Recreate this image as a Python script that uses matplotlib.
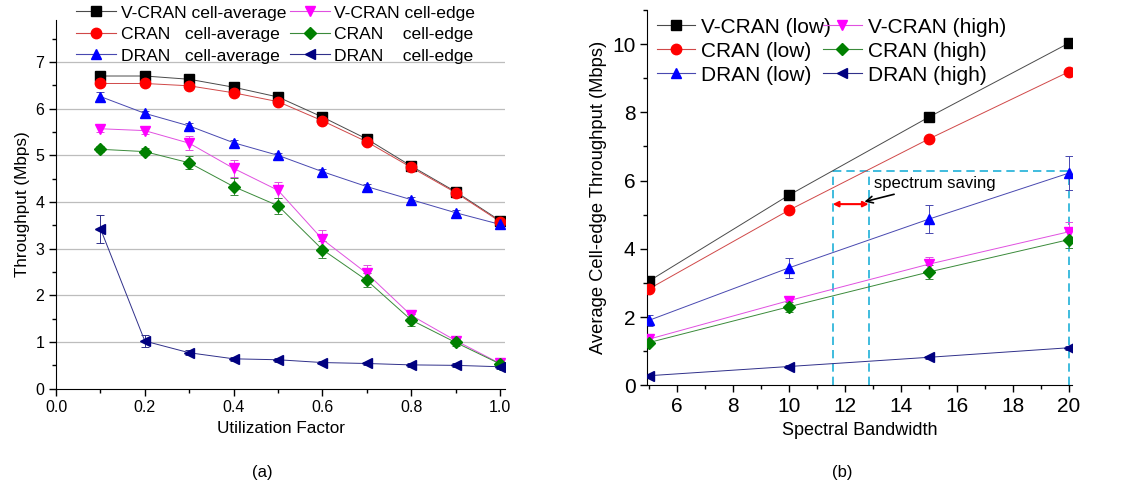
import matplotlib
matplotlib.use("Agg")
import matplotlib.pyplot as plt
from matplotlib.lines import Line2D
from matplotlib.ticker import MultipleLocator, FormatStrFormatter

plt.rcParams['font.family'] = ['Liberation Sans', 'DejaVu Sans']

# ---- panel (a) data ----
util = [0.1, 0.2, 0.3, 0.4, 0.5, 0.6, 0.7, 0.8, 0.9, 1.0]
vcran_avg = [6.70, 6.70, 6.63, 6.46, 6.25, 5.82, 5.35, 4.77, 4.22, 3.60]
cran_avg = [6.54, 6.54, 6.49, 6.34, 6.15, 5.74, 5.29, 4.74, 4.20, 3.58]
dran_avg = [6.26, 5.90, 5.63, 5.27, 5.00, 4.65, 4.33, 4.05, 3.77, 3.52]
vcran_edge = [5.57, 5.53, 5.26, 4.72, 4.25, 3.20, 2.47, 1.57, 1.03, 0.54]
cran_edge = [5.13, 5.08, 4.84, 4.33, 3.92, 2.98, 2.32, 1.47, 0.99, 0.53]
dran_edge = [3.43, 1.02, 0.77, 0.64, 0.62, 0.56, 0.54, 0.51, 0.50, 0.47]
vcran_avg_err = [0.04, 0.04, 0.04, 0.04, 0.04, 0.05, 0.05, 0.05, 0.05, 0.05]
cran_avg_err = [0.04, 0.04, 0.04, 0.04, 0.04, 0.05, 0.05, 0.05, 0.05, 0.05]
dran_avg_err = [0.10, 0.06, 0.06, 0.06, 0.06, 0.06, 0.06, 0.05, 0.05, 0.05]
vcran_edge_err = [0.06, 0.08, 0.15, 0.19, 0.17, 0.20, 0.18, 0.12, 0.07, 0.04]
cran_edge_err = [0.06, 0.08, 0.14, 0.18, 0.17, 0.18, 0.15, 0.12, 0.07, 0.04]
dran_edge_err = [0.30, 0.13, 0.05, 0.04, 0.04, 0.04, 0.04, 0.04, 0.04, 0.04]

# ---- panel (b) data ----
bw = [5, 10, 15, 20]
vcran_low = [3.05, 5.57, 7.86, 10.03]
cran_low = [2.82, 5.13, 7.22, 9.19]
dran_low = [1.90, 3.44, 4.87, 6.22]
vcran_high = [1.35, 2.48, 3.55, 4.50]
cran_high = [1.25, 2.30, 3.32, 4.27]
dran_high = [0.28, 0.55, 0.82, 1.10]
vcran_low_err = [0.05, 0.06, 0.06, 0.07]
cran_low_err = [0.05, 0.06, 0.06, 0.07]
dran_low_err = [0.15, 0.30, 0.40, 0.50]
vcran_high_err = [0.08, 0.15, 0.20, 0.30]
cran_high_err = [0.08, 0.15, 0.20, 0.25]
dran_high_err = [0.04, 0.05, 0.05, 0.06]

# spectrum saving guide
saving_level = 6.28
saving_x = [11.57, 12.85]
saving_arrow_y = 5.31

mcolors = ['#000000', '#ff0000', '#0000ff', '#ff00ff', '#008000', '#000080']
lcolors = ['#4a4a4a', '#d04848', '#4848b0', '#e050e0', '#3a8a3a', '#30308a']
markers = ['s', 'o', '^', 'v', 'D', '<']
msizes = [6.5, 7.5, 7.5, 7.5, 6.5, 7.5]

fig = plt.figure(figsize=(11.41, 4.88), dpi=100)
ax1 = fig.add_axes([0.0491, 0.2035, 0.3935, 0.7555])
ax2 = fig.add_axes([0.5673, 0.2105, 0.372, 0.769])


def style_axes(ax, size):
    for s in ['top', 'right']:
        ax.spines[s].set_visible(False)
    ax.tick_params(which='major', direction='out', length=5, width=1, labelsize=size)
    ax.tick_params(which='minor', direction='out', length=3, width=1)


def draw(ax, x, series):
    handles = []
    for i, (y, e, lab) in enumerate(series):
        ax.errorbar(x, y, yerr=e, fmt='none', ecolor=lcolors[i],
                    elinewidth=0.7, capsize=3, capthick=0.7, zorder=2)
        ax.plot(x, y, color=lcolors[i], lw=0.7, zorder=3)
        ax.plot(x, y, ls='none', marker=markers[i], ms=msizes[i],
                mfc=mcolors[i], mec=mcolors[i], zorder=4)
        handles.append(Line2D([], [], color=lcolors[i], lw=0.8, marker=markers[i],
                              ms=msizes[i], mfc=mcolors[i], mec=mcolors[i], label=lab))
    return handles


# ---- (a) ----
series_a = [
    (vcran_avg, vcran_avg_err, 'V-CRAN cell-average'),
    (cran_avg, cran_avg_err, 'CRAN   cell-average'),
    (dran_avg, dran_avg_err, 'DRAN   cell-average'),
    (vcran_edge, vcran_edge_err, 'V-CRAN cell-edge'),
    (cran_edge, cran_edge_err, 'CRAN    cell-edge'),
    (dran_edge, dran_edge_err, 'DRAN    cell-edge'),
]
handles = draw(ax1, util, series_a)

ax1.set_xlim(0, 1.011)
ax1.set_ylim(0, 7.9)
ax1.xaxis.set_major_locator(MultipleLocator(0.2))
ax1.xaxis.set_minor_locator(MultipleLocator(0.1))
ax1.xaxis.set_major_formatter(FormatStrFormatter('%.1f'))
ax1.yaxis.set_major_locator(MultipleLocator(1))
ax1.yaxis.set_minor_locator(MultipleLocator(0.5))
for g in range(1, 8):
    ax1.axhline(g, color='#bdbdbd', lw=0.9, zorder=0)
style_axes(ax1, 11.5)
ax1.set_xlabel('Utilization Factor', fontsize=12.3)
ax1.set_ylabel('Throughput (Mbps)', fontsize=12.3)
ax1.legend(handles=handles, ncol=2, loc='upper left', bbox_to_anchor=(0.045, 1.04),
           frameon=False, fontsize=12.6, handlelength=2.3, handletextpad=0.25,
           columnspacing=0.2, labelspacing=0.36, borderaxespad=0, borderpad=0)

# ---- (b) ----
series_b = [
    (vcran_low, vcran_low_err, 'V-CRAN (low)'),
    (cran_low, cran_low_err, 'CRAN (low)'),
    (dran_low, dran_low_err, 'DRAN (low)'),
    (vcran_high, vcran_high_err, 'V-CRAN (high)'),
    (cran_high, cran_high_err, 'CRAN (high)'),
    (dran_high, dran_high_err, 'DRAN (high)'),
]
handles = draw(ax2, bw, series_b)

ax2.set_xlim(4.95, 20.1)
ax2.set_ylim(0, 11.0)
ax2.xaxis.set_major_locator(MultipleLocator(2))
ax2.xaxis.set_minor_locator(MultipleLocator(1))
ax2.yaxis.set_major_locator(MultipleLocator(2))
ax2.yaxis.set_minor_locator(MultipleLocator(1))
style_axes(ax2, 15)
ax2.set_xlabel('Spectral Bandwidth', fontsize=13)
ax2.set_ylabel('Average Cell-edge Throughput (Mbps)', fontsize=13.2)
ax2.legend(handles=handles, ncol=2, loc='upper left', bbox_to_anchor=(0.022, 0.98),
           frameon=False, fontsize=15, handlelength=1.85, handletextpad=0.3,
           columnspacing=-0.4, labelspacing=0.24, borderaxespad=0, borderpad=0)

# dashed guides
guide = dict(color='#1fb0d8', lw=1.2, ls=(0, (5, 3)), zorder=1)
ax2.plot([saving_x[0], 20], [saving_level, saving_level], **guide)
for xv in saving_x + [20]:
    ax2.plot([xv, xv], [0, saving_level], **guide)
ax2.annotate('', xy=(saving_x[1], saving_arrow_y), xytext=(saving_x[0], saving_arrow_y),
             arrowprops=dict(arrowstyle='<|-|>', color='red', lw=1.5,
                             mutation_scale=8, shrinkA=0, shrinkB=0))
ax2.annotate('spectrum saving', xy=(12.7, 5.38), xytext=(13.05, 5.9),
             fontsize=12, va='center', ha='left',
             arrowprops=dict(arrowstyle='->', color='black', lw=1.2,
                             shrinkA=0, shrinkB=0))

fig.text(0.2296, 0.031, '(a)', fontsize=12, ha='center', va='center')
fig.text(0.738, 0.031, '(b)', fontsize=12, ha='center', va='center')

fig.savefig('out.png', dpi=100, facecolor='white')
